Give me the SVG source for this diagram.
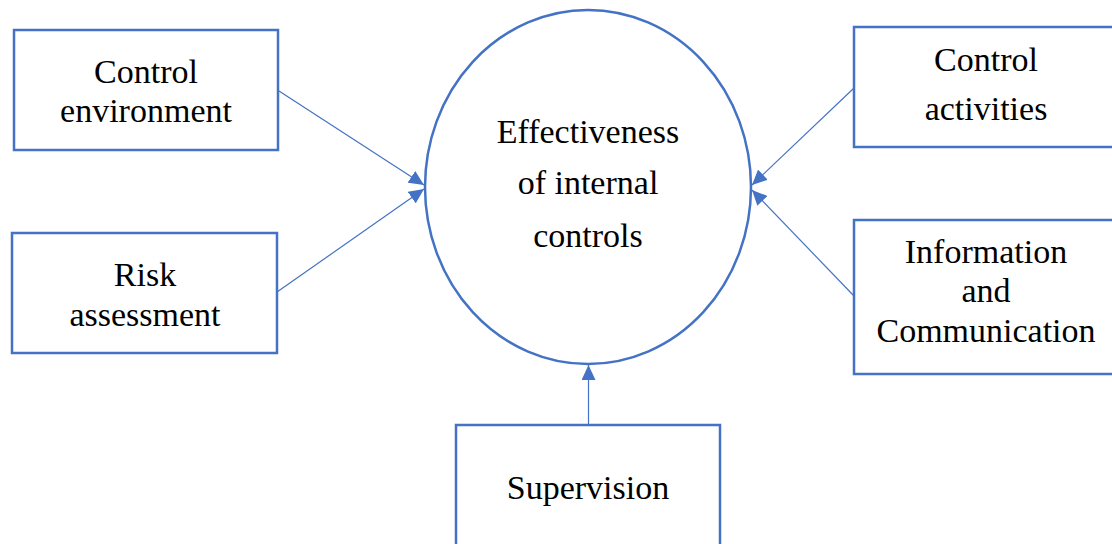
<svg xmlns="http://www.w3.org/2000/svg" width="1112" height="544" viewBox="0 0 1112 544">
<style>
.box{fill:#fff;stroke:#4472C4;stroke-width:2.5}
.ell{fill:#fff;stroke:#4472C4;stroke-width:2.5}
text{font-family:'Liberation Serif','Times New Roman',Times,'DejaVu Serif',serif;font-size:34px;fill:#000;text-anchor:middle}
.c{stroke:#4472C4;stroke-width:1.2;fill:none;marker-end:url(#ah)}
</style>
<defs>
<marker id="ah" markerUnits="userSpaceOnUse" markerWidth="16" markerHeight="14" refX="15" refY="7" orient="auto">
<path d="M0,0 L15,7 L0,14 Z" fill="#4472C4"/>
</marker>
</defs>
<rect width="1112" height="544" fill="#fff"/>
<g id="center">
<ellipse class="ell" cx="588" cy="187" rx="163" ry="177"/>
<text x="588" y="143">Effectiveness</text>
<text x="588" y="194">of internal</text>
<text x="588" y="247">controls</text>
</g>
<g id="control-environment">
<rect class="box" x="14" y="30" width="264" height="120"/>
<text x="146" y="83">Control</text>
<text x="146" y="122">environment</text>
</g>
<g id="risk-assessment">
<rect class="box" x="12" y="233" width="265" height="120"/>
<text x="145" y="286">Risk</text>
<text x="145" y="326">assessment</text>
</g>
<g id="control-activities">
<rect class="box" x="854" y="27" width="270" height="120"/>
<text x="986" y="71">Control</text>
<text x="986" y="120">activities</text>
</g>
<g id="information-communication">
<rect class="box" x="854" y="220" width="270" height="154"/>
<text x="986" y="263">Information</text>
<text x="986" y="302">and</text>
<text x="986" y="342">Communication</text>
</g>
<g id="supervision">
<rect class="box" x="456" y="425" width="264" height="130"/>
<text x="588" y="499">Supervision</text>
</g>
<g id="connectors">
<line class="c" x1="279" y1="91" x2="424" y2="185"/>
<line class="c" x1="277" y1="292" x2="424" y2="189"/>
<line class="c" x1="854" y1="88" x2="752" y2="185"/>
<line class="c" x1="854" y1="296" x2="752" y2="190"/>
<line class="c" x1="588.5" y1="425" x2="588.5" y2="365"/>
</g>
</svg>
